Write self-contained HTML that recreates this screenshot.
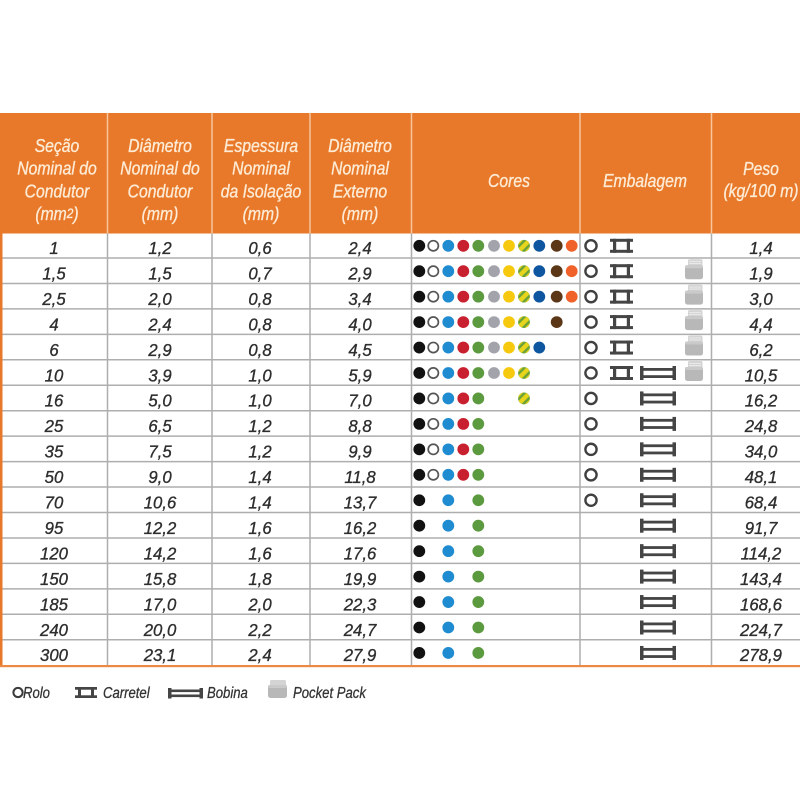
<!DOCTYPE html>
<html>
<head>
<meta charset="utf-8">
<style>
html,body{margin:0;padding:0;background:#fff;}
body{width:800px;height:800px;overflow:hidden;position:relative;}
svg{position:absolute;left:0;top:0;}
text{font-family:"Liberation Sans",sans-serif;font-style:italic;}
.h{fill:#fdebd5;stroke:#fdebd5;stroke-width:0.35;font-size:18.5px;text-anchor:middle;}
.n{fill:#2e2e2e;stroke:#2e2e2e;stroke-width:0.35;font-size:18px;text-anchor:middle;}
.l{fill:#333;stroke:#333;stroke-width:0.3;font-size:16px;}
</style>
</head>
<body>
<svg width="800" height="800" viewBox="0 0 800 800" xmlns="http://www.w3.org/2000/svg">
<defs>
  <clipPath id="cc"><circle cx="0" cy="0" r="5.8"/></clipPath>
  <circle id="bk" r="5.9" fill="#111"/>
  <circle id="wh" r="5.1" fill="#fff" stroke="#555" stroke-width="1.7"/>
  <circle id="bl" r="5.9" fill="#1f8bd1"/>
  <circle id="rd" r="5.9" fill="#c8202e"/>
  <circle id="gr" r="5.9" fill="#5c9a3f"/>
  <circle id="gy" r="5.9" fill="#a3a3ab"/>
  <circle id="ye" r="5.9" fill="#f6c90e"/>
  <g id="gs"><circle r="5.9" fill="#6aa23a"/><g clip-path="url(#cc)"><rect x="-9" y="-2.2" width="18" height="4.4" fill="#e6d51c" transform="rotate(-45)"/><rect x="-9" y="4.6" width="18" height="2.4" fill="#e6d51c" transform="rotate(-45)"/><rect x="-9" y="-7" width="18" height="2.4" fill="#e6d51c" transform="rotate(-45)"/></g></g>
  <circle id="db" r="5.9" fill="#0e57a0"/>
  <circle id="br" r="5.9" fill="#5b3718"/>
  <circle id="or" r="5.9" fill="#f0622a"/>
  <circle id="rolo" cx="591" cy="0" r="5.6" fill="none" stroke="#404040" stroke-width="2.4"/>
  <g id="car" fill="#454545"><rect x="610" y="-7" width="23" height="3"/><rect x="610" y="4" width="23" height="3"/><rect x="613" y="-7" width="3.2" height="14"/><rect x="626.8" y="-7" width="3.2" height="14"/></g>
  <g id="bob" fill="#454545"><rect x="640" y="-7" width="3.5" height="14"/><rect x="672.5" y="-7" width="3.5" height="14"/><rect x="642" y="-5" width="32" height="2.8"/><rect x="642" y="2.2" width="32" height="2.8"/></g>
  <g id="pk"><rect x="688" y="-12" width="14.5" height="8" rx="1.5" fill="#d4d4d4"/><rect x="689" y="-10" width="12" height="0.8" fill="#eee"/><rect x="689" y="-8" width="12" height="0.8" fill="#eee"/><rect x="685" y="-6" width="18" height="14" rx="2.5" fill="#b8b8b8"/><rect x="685" y="-6" width="18" height="3" rx="1.5" fill="#cacaca"/></g>
</defs>

<!-- header -->
<rect x="0" y="113" width="800" height="120.5" fill="#e8792a"/>
<g stroke="#f6c59c" stroke-width="1.5">
  <line x1="107.5" y1="113" x2="107.5" y2="233.5"/>
  <line x1="212" y1="113" x2="212" y2="233.5"/>
  <line x1="310" y1="113" x2="310" y2="233.5"/>
  <line x1="411.5" y1="113" x2="411.5" y2="233.5"/>
  <line x1="580" y1="113" x2="580" y2="233.5"/>
  <line x1="711.5" y1="113" x2="711.5" y2="233.5"/>
</g>

<!-- body grid -->
<g stroke="#aeaeae" stroke-width="1.5">
  <line x1="0" y1="258" x2="800" y2="258"/>
  <line x1="0" y1="283.45" x2="800" y2="283.45"/>
  <line x1="0" y1="308.9" x2="800" y2="308.9"/>
  <line x1="0" y1="334.35" x2="800" y2="334.35"/>
  <line x1="0" y1="359.8" x2="800" y2="359.8"/>
  <line x1="0" y1="385.25" x2="800" y2="385.25"/>
  <line x1="0" y1="410.7" x2="800" y2="410.7"/>
  <line x1="0" y1="436.15" x2="800" y2="436.15"/>
  <line x1="0" y1="461.6" x2="800" y2="461.6"/>
  <line x1="0" y1="487.05" x2="800" y2="487.05"/>
  <line x1="0" y1="512.5" x2="800" y2="512.5"/>
  <line x1="0" y1="537.95" x2="800" y2="537.95"/>
  <line x1="0" y1="563.4" x2="800" y2="563.4"/>
  <line x1="0" y1="588.85" x2="800" y2="588.85"/>
  <line x1="0" y1="614.3" x2="800" y2="614.3"/>
  <line x1="0" y1="639.75" x2="800" y2="639.75"/>
  <line x1="107.5" y1="233.5" x2="107.5" y2="665.5"/>
  <line x1="212" y1="233.5" x2="212" y2="665.5"/>
  <line x1="310" y1="233.5" x2="310" y2="665.5"/>
  <line x1="411.5" y1="233.5" x2="411.5" y2="665.5"/>
  <line x1="580" y1="233.5" x2="580" y2="665.5"/>
  <line x1="711.5" y1="233.5" x2="711.5" y2="665.5"/>
</g>
<rect x="0" y="113" width="2.5" height="554" fill="#e8792a"/>
<rect x="0" y="665" width="800" height="2.2" fill="#ec8a45"/>

<!-- header text -->
<g transform="scale(0.85,1)">
  <text class="h" x="67.06" y="152">Seção</text>
  <text class="h" x="67.06" y="174.7">Nominal do</text>
  <text class="h" x="67.06" y="197.3">Condutor</text>
  <text class="h" x="67.06" y="220">(mm<tspan font-size="14" dy="-2">2</tspan><tspan dy="2">)</tspan></text>

  <text class="h" x="188.24" y="152">Diâmetro</text>
  <text class="h" x="188.24" y="174.7">Nominal do</text>
  <text class="h" x="188.24" y="197.3">Condutor</text>
  <text class="h" x="188.24" y="220">(mm)</text>

  <text class="h" x="307.06" y="152">Espessura</text>
  <text class="h" x="307.06" y="174.7">Nominal</text>
  <text class="h" x="307.06" y="197.3">da Isolação</text>
  <text class="h" x="307.06" y="220">(mm)</text>

  <text class="h" x="423.53" y="152">Diâmetro</text>
  <text class="h" x="423.53" y="174.7">Nominal</text>
  <text class="h" x="423.53" y="197.3">Externo</text>
  <text class="h" x="423.53" y="220">(mm)</text>

  <text class="h" x="598.82" y="187">Cores</text>
  <text class="h" x="758.82" y="187">Embalagem</text>

  <text class="h" x="895.29" y="175">Peso</text>
  <text class="h" x="895.29" y="197">(kg/100 m)</text>
</g>

<!-- numbers -->
<g transform="scale(0.93,1)">
  <text class="n" x="58.06" y="254.05">1</text><text class="n" x="172.04" y="254.05">1,2</text><text class="n" x="279.57" y="254.05">0,6</text><text class="n" x="387.1" y="254.05">2,4</text><text class="n" x="818.28" y="254.05">1,4</text>
  <text class="n" x="58.06" y="279.5">1,5</text><text class="n" x="172.04" y="279.5">1,5</text><text class="n" x="279.57" y="279.5">0,7</text><text class="n" x="387.1" y="279.5">2,9</text><text class="n" x="818.28" y="279.5">1,9</text>
  <text class="n" x="58.06" y="304.95">2,5</text><text class="n" x="172.04" y="304.95">2,0</text><text class="n" x="279.57" y="304.95">0,8</text><text class="n" x="387.1" y="304.95">3,4</text><text class="n" x="818.28" y="304.95">3,0</text>
  <text class="n" x="58.06" y="330.4">4</text><text class="n" x="172.04" y="330.4">2,4</text><text class="n" x="279.57" y="330.4">0,8</text><text class="n" x="387.1" y="330.4">4,0</text><text class="n" x="818.28" y="330.4">4,4</text>
  <text class="n" x="58.06" y="355.85">6</text><text class="n" x="172.04" y="355.85">2,9</text><text class="n" x="279.57" y="355.85">0,8</text><text class="n" x="387.1" y="355.85">4,5</text><text class="n" x="818.28" y="355.85">6,2</text>
  <text class="n" x="58.06" y="381.3">10</text><text class="n" x="172.04" y="381.3">3,9</text><text class="n" x="279.57" y="381.3">1,0</text><text class="n" x="387.1" y="381.3">5,9</text><text class="n" x="818.28" y="381.3">10,5</text>
  <text class="n" x="58.06" y="406.75">16</text><text class="n" x="172.04" y="406.75">5,0</text><text class="n" x="279.57" y="406.75">1,0</text><text class="n" x="387.1" y="406.75">7,0</text><text class="n" x="818.28" y="406.75">16,2</text>
  <text class="n" x="58.06" y="432.2">25</text><text class="n" x="172.04" y="432.2">6,5</text><text class="n" x="279.57" y="432.2">1,2</text><text class="n" x="387.1" y="432.2">8,8</text><text class="n" x="818.28" y="432.2">24,8</text>
  <text class="n" x="58.06" y="457.65">35</text><text class="n" x="172.04" y="457.65">7,5</text><text class="n" x="279.57" y="457.65">1,2</text><text class="n" x="387.1" y="457.65">9,9</text><text class="n" x="818.28" y="457.65">34,0</text>
  <text class="n" x="58.06" y="483.1">50</text><text class="n" x="172.04" y="483.1">9,0</text><text class="n" x="279.57" y="483.1">1,4</text><text class="n" x="387.1" y="483.1">11,8</text><text class="n" x="818.28" y="483.1">48,1</text>
  <text class="n" x="58.06" y="508.55">70</text><text class="n" x="172.04" y="508.55">10,6</text><text class="n" x="279.57" y="508.55">1,4</text><text class="n" x="387.1" y="508.55">13,7</text><text class="n" x="818.28" y="508.55">68,4</text>
  <text class="n" x="58.06" y="534">95</text><text class="n" x="172.04" y="534">12,2</text><text class="n" x="279.57" y="534">1,6</text><text class="n" x="387.1" y="534">16,2</text><text class="n" x="818.28" y="534">91,7</text>
  <text class="n" x="58.06" y="559.45">120</text><text class="n" x="172.04" y="559.45">14,2</text><text class="n" x="279.57" y="559.45">1,6</text><text class="n" x="387.1" y="559.45">17,6</text><text class="n" x="818.28" y="559.45">114,2</text>
  <text class="n" x="58.06" y="584.9">150</text><text class="n" x="172.04" y="584.9">15,8</text><text class="n" x="279.57" y="584.9">1,8</text><text class="n" x="387.1" y="584.9">19,9</text><text class="n" x="818.28" y="584.9">143,4</text>
  <text class="n" x="58.06" y="610.35">185</text><text class="n" x="172.04" y="610.35">17,0</text><text class="n" x="279.57" y="610.35">2,0</text><text class="n" x="387.1" y="610.35">22,3</text><text class="n" x="818.28" y="610.35">168,6</text>
  <text class="n" x="58.06" y="635.8">240</text><text class="n" x="172.04" y="635.8">20,0</text><text class="n" x="279.57" y="635.8">2,2</text><text class="n" x="387.1" y="635.8">24,7</text><text class="n" x="818.28" y="635.8">224,7</text>
  <text class="n" x="58.06" y="661.25">300</text><text class="n" x="172.04" y="661.25">23,1</text><text class="n" x="279.57" y="661.25">2,4</text><text class="n" x="387.1" y="661.25">27,9</text><text class="n" x="818.28" y="661.25">278,9</text>
</g>

<!-- color dots + packaging -->
<g transform="translate(0,245.8)">
  <use href="#bk" x="419.3"/><use href="#wh" x="433.3"/><use href="#bl" x="448.3"/><use href="#rd" x="463.3"/><use href="#gr" x="478.3"/><use href="#gy" x="494"/><use href="#ye" x="509"/><use href="#gs" x="524"/><use href="#db" x="539.3"/><use href="#br" x="556.7"/><use href="#or" x="571.7"/>
  <use href="#rolo"/><use href="#car"/>
</g>
<g transform="translate(0,271.2)">
  <use href="#bk" x="419.3"/><use href="#wh" x="433.3"/><use href="#bl" x="448.3"/><use href="#rd" x="463.3"/><use href="#gr" x="478.3"/><use href="#gy" x="494"/><use href="#ye" x="509"/><use href="#gs" x="524"/><use href="#db" x="539.3"/><use href="#br" x="556.7"/><use href="#or" x="571.7"/>
  <use href="#rolo"/><use href="#car"/><use href="#pk"/>
</g>
<g transform="translate(0,296.65)">
  <use href="#bk" x="419.3"/><use href="#wh" x="433.3"/><use href="#bl" x="448.3"/><use href="#rd" x="463.3"/><use href="#gr" x="478.3"/><use href="#gy" x="494"/><use href="#ye" x="509"/><use href="#gs" x="524"/><use href="#db" x="539.3"/><use href="#br" x="556.7"/><use href="#or" x="571.7"/>
  <use href="#rolo"/><use href="#car"/><use href="#pk"/>
</g>
<g transform="translate(0,322.1)">
  <use href="#bk" x="419.3"/><use href="#wh" x="433.3"/><use href="#bl" x="448.3"/><use href="#rd" x="463.3"/><use href="#gr" x="478.3"/><use href="#gy" x="494"/><use href="#ye" x="509"/><use href="#gs" x="524"/><use href="#br" x="556.7"/>
  <use href="#rolo"/><use href="#car"/><use href="#pk"/>
</g>
<g transform="translate(0,347.55)">
  <use href="#bk" x="419.3"/><use href="#wh" x="433.3"/><use href="#bl" x="448.3"/><use href="#rd" x="463.3"/><use href="#gr" x="478.3"/><use href="#gy" x="494"/><use href="#ye" x="509"/><use href="#gs" x="524"/><use href="#db" x="539.3"/>
  <use href="#rolo"/><use href="#car"/><use href="#pk"/>
</g>
<g transform="translate(0,373)">
  <use href="#bk" x="419.3"/><use href="#wh" x="433.3"/><use href="#bl" x="448.3"/><use href="#rd" x="463.3"/><use href="#gr" x="478.3"/><use href="#gy" x="494"/><use href="#ye" x="509"/><use href="#gs" x="524"/>
  <use href="#rolo"/><use href="#car"/><use href="#bob"/><use href="#pk"/>
</g>
<g transform="translate(0,398.45)">
  <use href="#bk" x="419.3"/><use href="#wh" x="433.3"/><use href="#bl" x="448.3"/><use href="#rd" x="463.3"/><use href="#gr" x="478.3"/><use href="#gs" x="524"/>
  <use href="#rolo"/><use href="#bob"/>
</g>
<g transform="translate(0,423.9)">
  <use href="#bk" x="419.3"/><use href="#wh" x="433.3"/><use href="#bl" x="448.3"/><use href="#rd" x="463.3"/><use href="#gr" x="478.3"/>
  <use href="#rolo"/><use href="#bob"/>
</g>
<g transform="translate(0,449.35)">
  <use href="#bk" x="419.3"/><use href="#wh" x="433.3"/><use href="#bl" x="448.3"/><use href="#rd" x="463.3"/><use href="#gr" x="478.3"/>
  <use href="#rolo"/><use href="#bob"/>
</g>
<g transform="translate(0,474.8)">
  <use href="#bk" x="419.3"/><use href="#wh" x="433.3"/><use href="#bl" x="448.3"/><use href="#rd" x="463.3"/><use href="#gr" x="478.3"/>
  <use href="#rolo"/><use href="#bob"/>
</g>
<g transform="translate(0,500.25)">
  <use href="#bk" x="419.3"/><use href="#bl" x="448.3"/><use href="#gr" x="478.3"/>
  <use href="#rolo"/><use href="#bob"/>
</g>
<g transform="translate(0,525.7)">
  <use href="#bk" x="419.3"/><use href="#bl" x="448.3"/><use href="#gr" x="478.3"/><use href="#bob"/>
</g>
<g transform="translate(0,551.15)">
  <use href="#bk" x="419.3"/><use href="#bl" x="448.3"/><use href="#gr" x="478.3"/><use href="#bob"/>
</g>
<g transform="translate(0,576.6)">
  <use href="#bk" x="419.3"/><use href="#bl" x="448.3"/><use href="#gr" x="478.3"/><use href="#bob"/>
</g>
<g transform="translate(0,602.05)">
  <use href="#bk" x="419.3"/><use href="#bl" x="448.3"/><use href="#gr" x="478.3"/><use href="#bob"/>
</g>
<g transform="translate(0,627.5)">
  <use href="#bk" x="419.3"/><use href="#bl" x="448.3"/><use href="#gr" x="478.3"/><use href="#bob"/>
</g>
<g transform="translate(0,652.95)">
  <use href="#bk" x="419.3"/><use href="#bl" x="448.3"/><use href="#gr" x="478.3"/><use href="#bob"/>
</g>

<!-- legend -->
<circle cx="18" cy="692.5" r="4.6" fill="none" stroke="#3a3a3a" stroke-width="2"/>
<g fill="#454545">
  <rect x="75" y="687" width="22" height="2.7"/><rect x="75" y="695.3" width="22" height="2.7"/>
  <rect x="78" y="687" width="3" height="11"/><rect x="91" y="687" width="3" height="11"/>
  <rect x="168" y="688" width="3.5" height="10.5"/><rect x="199.5" y="688" width="3.5" height="10.5"/>
  <rect x="170" y="689.5" width="31" height="2.6"/><rect x="170" y="694.5" width="31" height="2.6"/>
</g>
<rect x="270" y="680" width="16" height="8" rx="1.5" fill="#d4d4d4"/>
<rect x="268" y="685" width="19" height="13" rx="2.5" fill="#b8b8b8"/>
<rect x="268" y="685" width="19" height="3" rx="1.5" fill="#cacaca"/>
<g transform="scale(0.82,1)">
  <text class="l" x="28.05" y="698">Rolo</text>
  <text class="l" x="125.6" y="698">Carretel</text>
  <text class="l" x="252.44" y="698">Bobina</text>
  <text class="l" x="357.32" y="698">Pocket Pack</text>
</g>
</svg>
</body>
</html>
